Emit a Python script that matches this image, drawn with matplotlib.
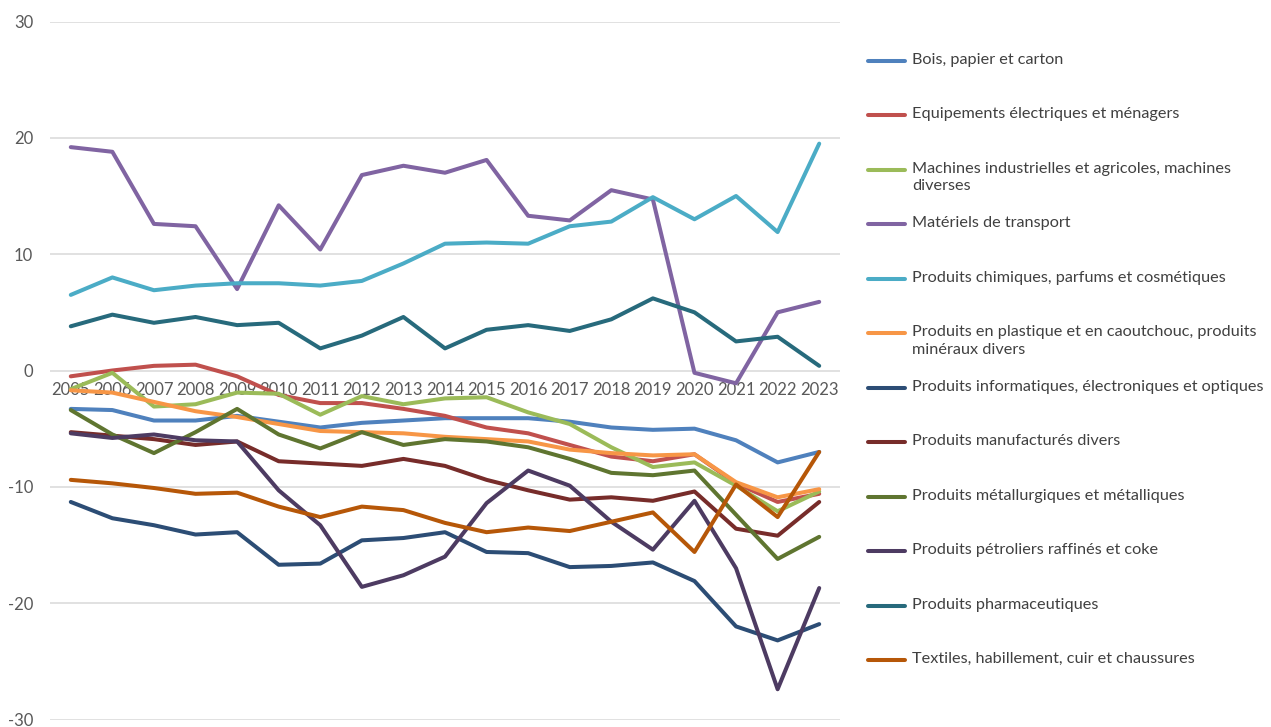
import matplotlib
matplotlib.use("Agg")
import matplotlib.pyplot as plt
from matplotlib.lines import Line2D

years = [str(y) for y in range(2005, 2024)]

bois = [-3.3, -3.4, -4.3, -4.3, -3.9, -4.4, -4.9, -4.5, -4.3, -4.1, -4.1, -4.1, -4.4, -4.9, -5.1, -5.0, -6.0, -7.9, -7.0]
equip = [-0.5, 0.0, 0.4, 0.5, -0.5, -2.1, -2.8, -2.8, -3.3, -3.9, -4.9, -5.4, -6.4, -7.4, -7.8, -7.2, -9.7, -11.3, -10.6]
machines = [-1.6, -0.2, -3.1, -2.9, -1.9, -2.0, -3.8, -2.2, -2.9, -2.4, -2.3, -3.6, -4.6, -6.6, -8.3, -7.9, -9.9, -12.1, -10.4]
transport = [19.2, 18.8, 12.6, 12.4, 7.0, 14.2, 10.4, 16.8, 17.6, 17.0, 18.1, 13.3, 12.9, 15.5, 14.7, -0.2, -1.1, 5.0, 5.9]
chimie = [6.5, 8.0, 6.9, 7.3, 7.5, 7.5, 7.3, 7.7, 9.2, 10.9, 11.0, 10.9, 12.4, 12.8, 14.9, 13.0, 15.0, 11.9, 19.5]
plastique = [-1.7, -1.9, -2.7, -3.5, -4.0, -4.6, -5.2, -5.3, -5.4, -5.7, -5.9, -6.1, -6.8, -7.1, -7.3, -7.2, -9.6, -10.9, -10.2]
informatique = [-11.3, -12.7, -13.3, -14.1, -13.9, -16.7, -16.6, -14.6, -14.4, -13.9, -15.6, -15.7, -16.9, -16.8, -16.5, -18.1, -22.0, -23.2, -21.8]
manufactures = [-5.3, -5.6, -5.9, -6.4, -6.1, -7.8, -8.0, -8.2, -7.6, -8.2, -9.4, -10.3, -11.1, -10.9, -11.2, -10.4, -13.6, -14.2, -11.3]
metallurgie = [-3.4, -5.5, -7.1, -5.3, -3.3, -5.5, -6.7, -5.3, -6.4, -5.9, -6.1, -6.6, -7.6, -8.8, -9.0, -8.6, -12.4, -16.2, -14.3]
petrole = [-5.4, -5.8, -5.5, -6.0, -6.1, -10.3, -13.3, -18.6, -17.6, -16.0, -11.4, -8.6, -9.9, -13.0, -15.4, -11.2, -17.0, -27.4, -18.7]
pharma = [3.8, 4.8, 4.1, 4.6, 3.9, 4.1, 1.9, 3.0, 4.6, 1.9, 3.5, 3.9, 3.4, 4.4, 6.2, 5.0, 2.5, 2.9, 0.4]
textile = [-9.4, -9.7, -10.1, -10.6, -10.5, -11.7, -12.6, -11.7, -12.0, -13.1, -13.9, -13.5, -13.8, -13.0, -12.2, -15.6, -9.8, -12.6, -7.0]

labels = [
    "Bois, papier et carton",
    "Equipements électriques et ménagers",
    "Machines industrielles et agricoles, machines\ndiverses",
    "Matériels de transport",
    "Produits chimiques, parfums et cosmétiques",
    "Produits en plastique et en caoutchouc, produits\nminéraux divers",
    "Produits informatiques, électroniques et optiques",
    "Produits manufacturés divers",
    "Produits métallurgiques et métalliques",
    "Produits pétroliers raffinés et coke",
    "Produits pharmaceutiques",
    "Textiles, habillement, cuir et chaussures",
]
series = [bois, equip, machines, transport, chimie, plastique, informatique,
          manufactures, metallurgie, petrole, pharma, textile]
colors = ["#4F81BD", "#C0504D", "#9BBB59", "#8064A2", "#4BACC6", "#F79646",
          "#2C4D75", "#772C2A", "#5F7530", "#4D3B62", "#276A7C", "#B65708"]

plt.rcParams['font.family'] = ['Lato', 'DejaVu Sans']
plt.rcParams['axes.unicode_minus'] = False

W, H = 1271, 727
fig = plt.figure(figsize=(W / 100, H / 100), dpi=100)
ax = fig.add_axes([50 / W, 7.5 / H, 790 / W, 698 / H])

x = list(range(len(years)))
for vals, col in zip(series, colors):
    ax.plot(x, vals, color=col, lw=2.9, solid_capstyle='round', solid_joinstyle='round')

ax.set_xlim(-0.5, len(years) - 0.5)
ax.set_ylim(-30, 30)
ax.set_yticks([-30, -20, -10, 0, 10, 20, 30])
ax.grid(axis='y', color='#D9D9D9', lw=1.1)
ax.set_axisbelow(True)
for s in ax.spines.values():
    s.set_visible(False)
ax.spines['bottom'].set_position(('data', 0))
ax.set_xticks(x)
ax.set_xticklabels(years)
ax.tick_params(axis='both', length=0, colors='#595959', labelsize=12)
ax.tick_params(axis='x', pad=8)
ax.tick_params(axis='y', pad=12)

# legend (manual, uniform spacing)
y0 = 61
dy = 54.45
for i, (lab, col) in enumerate(zip(labels, colors)):
    yy = y0 + i * dy
    fy = 1 - yy / H
    fig.add_artist(Line2D([868 / W, 905 / W], [fy, fy], color=col, lw=2.9,
                          solid_capstyle='round', transform=fig.transFigure))
    fig.text(912 / W, 1 - (yy - 8) / H, lab, ha='left', va='top', fontsize=11.7,
             color='#404040', linespacing=1.3)

fig.savefig("out.png", dpi=100)
